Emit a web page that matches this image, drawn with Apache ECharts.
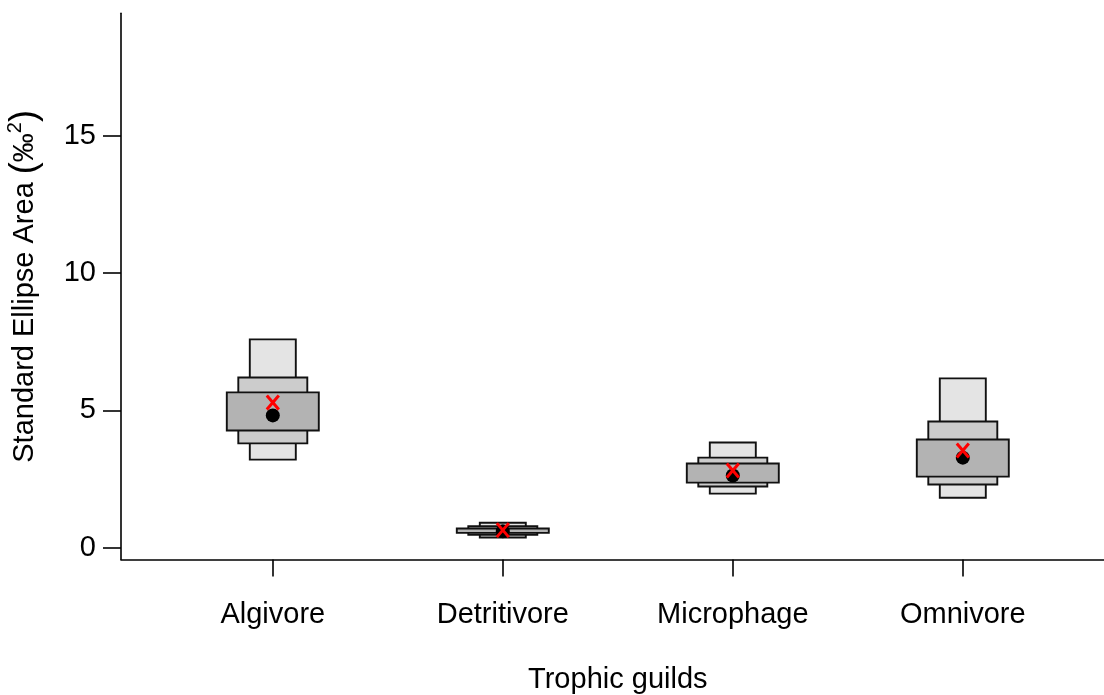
<!DOCTYPE html>
<html>
<head>
<meta charset="utf-8">
<script src="https://cdn.jsdelivr.net/npm/echarts@6/dist/echarts.min.js"></script>
<style>html,body{margin:0;padding:0;background:#fff;}#c{width:1104px;height:695px;}</style>
</head>
<body>
<div id="c"></div>
<script>
// ---- data ----
const categories = ['Algivore', 'Detritivore', 'Microphage', 'Omnivore'];
const ci95Low  = [3.21, 0.37, 1.97, 1.82];
const ci95High = [7.59, 0.91, 3.83, 6.17];
const ci75Low  = [3.80, 0.47, 2.23, 2.30];
const ci75High = [6.20, 0.78, 3.28, 4.60];
const ci50Low  = [4.27, 0.54, 2.37, 2.59];
const ci50High = [5.66, 0.70, 3.07, 3.94];
const modeValues = [4.82, 0.60, 2.63, 3.28];
const mlEstimates = [5.29, 0.64, 2.81, 3.54];
const yTicks = [0, 5, 10, 15];

const positions = categories.map((c, i) => i + 1);
const boxData = categories.map((c, i) => [positions[i], ci95Low[i], ci95High[i], ci75Low[i], ci75High[i], ci50Low[i], ci50High[i]]);
const modeData = categories.map((c, i) => [positions[i], modeValues[i]]);
const mlData = categories.map((c, i) => [positions[i], mlEstimates[i]]);

const FONT = 'Liberation Sans, Arial, sans-serif';
const FS = 29;
const fills = ['#e4e4e4', '#cccccc', '#b3b3b3'];
const halfW = [0.1, 0.15, 0.2];

const chart = echarts.init(document.getElementById('c'), null, {renderer: 'canvas'});
chart.setOption({
  backgroundColor: '#ffffff',
  animation: false,
  grid: {left: 121, top: 13.3, width: 993.6, height: 546.2, containLabel: false, outerBoundsMode: 'none'},
  xAxis: {
    type: 'value', min: 0.34, max: 4.66,
    splitLine: {show: false},
    axisLine: {show: true, onZero: false, lineStyle: {color: '#000', width: 1.6}},
    axisTick: {show: true, customValues: positions, length: 17, lineStyle: {color: '#000', width: 1.6}},
    axisLabel: {customValues: positions, formatter: v => categories[Math.round(v) - 1] || '', color: '#000', fontSize: FS, fontFamily: FONT, margin: 41},
    name: 'Trophic guilds', nameLocation: 'middle', nameGap: 106,
    nameTextStyle: {color: '#000', fontSize: FS, fontFamily: FONT}
  },
  yAxis: {
    type: 'value', min: -0.43, max: 19.47,
    splitLine: {show: false},
    axisLine: {show: true, onZero: false, lineStyle: {color: '#000', width: 1.6}},
    axisTick: {show: true, customValues: yTicks, length: 18, lineStyle: {color: '#000', width: 1.6}},
    axisLabel: {customValues: yTicks, color: '#000', fontSize: FS, fontFamily: FONT, margin: 25},
    name: '{t|Standard Ellipse Area }{p|(}{t|‰}{s|2}{p|)}',
    nameLocation: 'middle', nameRotate: 90, nameGap: 76,
    nameTextStyle: {
      color: '#000', fontFamily: FONT,
      rich: {
        t: {fontSize: FS, fontFamily: FONT, color: '#000'},
        p: {fontSize: 36, fontFamily: FONT, color: '#000'},
        s: {fontSize: 20, fontFamily: FONT, color: '#000', padding: [0, 0, 20, 0]}
      }
    }
  },
  series: [
    {
      type: 'custom',
      data: boxData,
      encode: {x: 0, y: [1, 2, 3, 4, 5, 6]},
      renderItem: function (params, api) {
        const x = api.value(0);
        const children = [];
        for (let k = 0; k < 3; k++) {
          const lo = api.value(1 + 2 * k), hi = api.value(2 + 2 * k);
          const p1 = api.coord([x - halfW[k], hi]);
          const p2 = api.coord([x + halfW[k], lo]);
          children.push({
            type: 'rect',
            shape: {x: p1[0], y: p1[1], width: p2[0] - p1[0], height: p2[1] - p1[1]},
            style: {fill: fills[k], stroke: '#111', lineWidth: 1.9}
          });
        }
        return {type: 'group', children: children};
      },
      z: 2
    },
    {
      type: 'scatter',
      data: modeData,
      symbol: 'circle', symbolSize: 14,
      itemStyle: {color: '#000', opacity: 1},
      z: 3
    },
    {
      type: 'custom',
      data: mlData,
      renderItem: function (params, api) {
        const c = api.coord([api.value(0), api.value(1)]);
        const hx = 6, hy = 7;
        return {type: 'group', children: [
          {type: 'line', shape: {x1: c[0] - hx, y1: c[1] - hy, x2: c[0] + hx, y2: c[1] + hy}, style: {stroke: '#ff0000', lineWidth: 3}},
          {type: 'line', shape: {x1: c[0] - hx, y1: c[1] + hy, x2: c[0] + hx, y2: c[1] - hy}, style: {stroke: '#ff0000', lineWidth: 3}}
        ]};
      },
      z: 4
    }
  ]
});
</script>
</body>
</html>
